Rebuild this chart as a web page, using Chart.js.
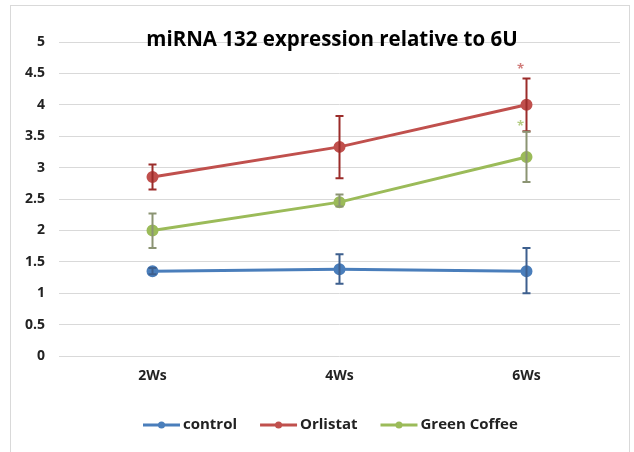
<!DOCTYPE html>
<html>
<head>
<meta charset="utf-8">
<script src="https://cdn.jsdelivr.net/npm/chart.js@4/dist/chart.umd.min.js"></script>
<style>
  html, body { margin: 0; padding: 0; background: #fff; }
  #wrap { position: relative; width: 634px; height: 452px; overflow: hidden; }
  #frame { position: absolute; left: 10px; top: 5px; width: 620px; height: 470px; border: 1px solid #d9d9d9; box-sizing: border-box; }
  canvas { position: absolute; left: 0; top: 0; }
</style>
</head>
<body>
<div id="wrap">
  <div id="frame"></div>
  <canvas id="c" width="634" height="452"></canvas>
</div>
<script>
const titleText = 'miRNA 132 expression relative to 6U';
const categories = ['2Ws', '4Ws', '6Ws'];
const yTicks = [0, 0.5, 1, 1.5, 2, 2.5, 3, 3.5, 4, 4.5, 5];

const controlMean = [1.35, 1.38, 1.35];
const controlLow  = [1.30, 1.15, 1.00];
const controlHigh = [1.40, 1.62, 1.72];

const orlistatMean = [2.85, 3.33, 4.00];
const orlistatLow  = [2.65, 2.83, 3.58];
const orlistatHigh = [3.05, 3.82, 4.42];

const coffeeMean = [2.00, 2.45, 3.17];
const coffeeLow  = [1.72, 2.38, 2.77];
const coffeeHigh = [2.27, 2.57, 3.57];

// significance marks above the 6Ws points
const starOrlistat = [null, null, 4.62];
const starCoffee   = [null, null, 3.71];

const FONT = "'Open Sans', 'Liberation Sans', sans-serif";

function series(label, data, low, high, stars, color, errColor) {
  return {
    label, data, low, high, stars, errColor,
    borderColor: color, backgroundColor: color,
    pointBackgroundColor: color, pointBorderColor: color,
    borderWidth: 3, pointRadius: 4.5, pointHoverRadius: 4.5,
    tension: 0, fill: false
  };
}

const errorBars = {
  id: 'errorBars',
  afterDatasetsDraw(chart) {
    const ctx = chart.ctx;
    const y = chart.scales.y;
    chart.data.datasets.forEach((ds, di) => {
      const meta = chart.getDatasetMeta(di);
      ctx.save();
      ctx.strokeStyle = ds.errColor;
      ctx.lineWidth = 2;
      meta.data.forEach((pt, i) => {
        const x = pt.x;
        const y1 = y.getPixelForValue(ds.low[i]);
        const y2 = y.getPixelForValue(ds.high[i]);
        ctx.beginPath();
        ctx.moveTo(x, y1); ctx.lineTo(x, y2);
        ctx.moveTo(x - 4, y1); ctx.lineTo(x + 4, y1);
        ctx.moveTo(x - 4, y2); ctx.lineTo(x + 4, y2);
        ctx.stroke();
      });
      ctx.fillStyle = ds.borderColor;
      ctx.font = 'bold 13px ' + FONT;
      ctx.textAlign = 'center';
      ctx.textBaseline = 'middle';
      ds.stars.forEach((v, i) => {
        if (v == null) return;
        ctx.globalAlpha = 0.75;
        ctx.fillText('*', meta.data[i].x - 6, y.getPixelForValue(v) + 3);
      });
      ctx.restore();
    });
  }
};

const titleAndLegend = {
  id: 'titleAndLegend',
  afterDraw(chart) {
    const ctx = chart.ctx;
    ctx.save();
    ctx.fillStyle = '#000';
    ctx.font = 'bold 20.5px ' + FONT;
    ctx.textAlign = 'center';
    ctx.textBaseline = 'middle';
    ctx.fillText(titleText, 332, 40);

    // legend: line with marker, then label
    ctx.font = 'bold 15px ' + FONT;
    ctx.textAlign = 'left';
    const ly = 425;
    let x = 143;
    chart.data.datasets.forEach(ds => {
      ctx.strokeStyle = ds.borderColor;
      ctx.fillStyle = ds.borderColor;
      ctx.lineWidth = 3;
      ctx.beginPath(); ctx.moveTo(x, ly); ctx.lineTo(x + 37, ly); ctx.stroke();
      ctx.beginPath(); ctx.arc(x + 18.5, ly, 3.5, 0, Math.PI * 2); ctx.fill();
      ctx.fillStyle = '#222';
      ctx.fillText(ds.label, x + 40, ly);
      x += 40 + ctx.measureText(ds.label).width + 23;
    });
    ctx.restore();
  }
};

new Chart(document.getElementById('c'), {
  type: 'line',
  data: {
    labels: categories,
    datasets: [
      series('control', controlMean, controlLow, controlHigh, [null, null, null], '#4a7ebb', '#3d5f8e'),
      series('Orlistat', orlistatMean, orlistatLow, orlistatHigh, starOrlistat, '#c0504d', '#9b2c2a'),
      series('Green Coffee', coffeeMean, coffeeLow, coffeeHigh, starCoffee, '#9bbb59', '#8b9473')
    ]
  },
  options: {
    responsive: false,
    animation: false,
    layout: { padding: { left: 10, right: 14, top: 42, bottom: 0 } },
    plugins: { legend: { display: false }, title: { display: false }, tooltip: { enabled: false } },
    scales: {
      x: {
        offset: true,
        grid: { display: false, drawTicks: false },
        border: { display: false },
        ticks: { color: '#222', font: { family: FONT, size: 14, weight: 'bold' }, padding: 12 },
        afterFit(s) { s.height = 96; }
      },
      y: {
        min: 0, max: 5,
        afterBuildTicks(s) { s.ticks = yTicks.map(v => ({ value: v })); },
        grid: { color: '#d9d9d9', lineWidth: 1, drawTicks: false },
        border: { display: false },
        ticks: {
          color: '#222', font: { family: FONT, size: 14, weight: 'bold' }, padding: 14,
          callback: v => String(v)
        },
        afterFit(s) { s.width = 49; }
      }
    }
  },
  plugins: [errorBars, titleAndLegend]
});
</script>
</body>
</html>
